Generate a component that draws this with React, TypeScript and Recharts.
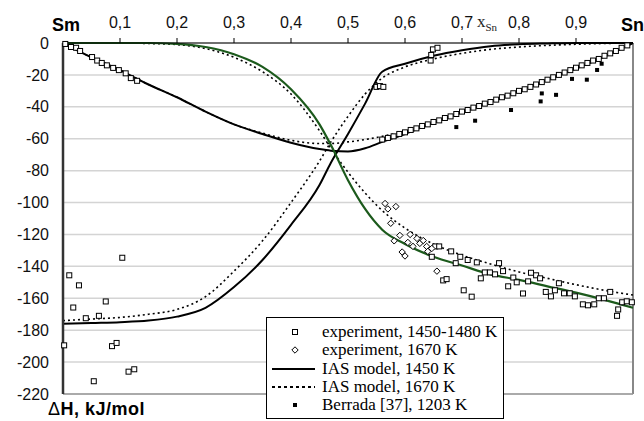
import React from "react";
import {
  CartesianGrid,
  ComposedChart,
  Line,
  ReferenceLine,
  Scatter,
  XAxis,
  YAxis,
} from "recharts";

// common composition grid for the model curves (x_Sn)
const modelX = [0, 0.05, 0.1, 0.15, 0.2, 0.25, 0.3, 0.35, 0.4, 0.45, 0.47, 0.5, 0.53, 0.56, 0.6, 0.65, 0.7, 0.75, 0.8, 0.85, 0.9, 0.95, 1];

// IAS model, 1450 K
const mix1450 = [0, -9, -17, -26, -34, -43, -51, -57, -62.5, -66.5, -67.5, -68, -66, -62, -57, -50, -43.5, -37, -30, -23, -16, -8.5, 0];
const sm1450 = [0, 0, 0, 0, -0.5, -2.5, -7, -15, -29, -51, -64, -86, -104, -117, -126, -134, -139.5, -145, -148.5, -152.5, -156.5, -161, -166];
const sn1450 = [-176, -175.5, -175, -174, -171.5, -166, -153, -136, -114, -89, -75, -57, -38, -18, -13, -8, -4.5, -2, -0.8, -0.3, 0, 0, 0];

// IAS model, 1670 K
const mix1670 = [0, -9, -17, -26, -34, -43, -51, -56.5, -61, -63, -63, -62, -60.5, -58.5, -55.5, -50, -43.5, -37, -30, -23, -16, -8.5, 0];
const sm1670 = [0, 0, 0, -0.3, -1, -3.5, -9, -18, -32, -55, -66, -81, -94, -105, -116, -126, -133, -138.5, -143.5, -147.5, -151.5, -155, -158];
const sn1670 = [-174, -173, -172, -170, -167, -159, -143, -124, -100, -74, -62, -46, -32, -22, -15, -10, -6.5, -4, -2.5, -1.5, -0.8, -0.3, 0];

// experiment, 1450-1480 K : integral enthalpy
const expMixX = [0.004, 0.014, 0.023, 0.03, 0.051, 0.06, 0.068, 0.077, 0.088, 0.098, 0.11, 0.119, 0.13,
  0.56, 0.57, 0.58, 0.59, 0.6, 0.61, 0.62, 0.63, 0.64, 0.65, 0.66, 0.67, 0.68, 0.69, 0.7, 0.71, 0.72, 0.73, 0.74,
  0.75, 0.76, 0.77, 0.78, 0.79, 0.8, 0.81, 0.82, 0.83, 0.84, 0.85, 0.86, 0.87, 0.88, 0.89, 0.9, 0.91, 0.92, 0.93,
  0.94, 0.95, 0.96, 0.97, 0.98, 0.99];
const expMixY = [-0.6, -2.5, -3, -5, -8.8, -11, -12.5, -14, -15.6, -17, -19, -22, -23.7,
  -60.5, -59.5, -58.5, -57, -56, -54.5, -53.5, -52, -51, -49.5, -48.5, -47, -46, -44.5, -43, -42, -40.5, -39.5, -38,
  -37, -35.5, -34, -33, -31.5, -30, -29, -27.5, -26, -24.5, -23, -21.5, -20, -18.5, -17, -15.5, -14, -12.5, -11,
  -10, -8, -6.5, -5, -3, -1.5];

// experiment, 1450-1480 K : partial enthalpy of Sn
const expSnX = [0.002, 0.011, 0.018, 0.028, 0.04, 0.054, 0.063, 0.075, 0.086, 0.094, 0.104, 0.115, 0.125,
  0.55, 0.556, 0.562, 0.645, 0.646, 0.649, 0.657];
const expSnY = [-189.5, -145.6, -165.8, -151.9, -172.5, -212, -171, -162, -190, -188, -134.6, -206, -204.5,
  -27.5, -27, -27.5, -11, -7.5, -4, -3];

// experiment, 1450-1480 K : partial enthalpy of Sm
const expSmX = [0.647, 0.653, 0.66, 0.667, 0.673, 0.681, 0.689, 0.697, 0.703, 0.71, 0.717, 0.726, 0.733, 0.74,
  0.749, 0.758, 0.765, 0.772, 0.781, 0.79, 0.796, 0.807, 0.816, 0.821, 0.83, 0.837, 0.847, 0.856, 0.863, 0.87,
  0.879, 0.889, 0.898, 0.912, 0.921, 0.932, 0.94, 0.949, 0.96, 0.972, 0.974, 0.981, 0.989, 0.998];
const expSmY = [-134, -127.5, -127.5, -148.8, -148, -130.6, -138, -134, -155, -136, -159, -137.5, -147.5, -143.8,
  -143.8, -145, -138, -143, -152.5, -147, -150, -157, -149.4, -144, -145.6, -147.5, -156, -158.8, -155, -150.6,
  -156.9, -156.9, -158.8, -163.8, -164.4, -163.8, -160, -160, -156, -171, -167, -162.5, -161.9, -162.5];

// experiment, 1670 K
const exp1670X = [0.565, 0.57, 0.575, 0.581, 0.584, 0.591, 0.595, 0.6, 0.605, 0.609, 0.614, 0.621, 0.626, 0.632, 0.638, 0.64, 0.647, 0.656];
const exp1670Y = [-100.6, -104, -113, -124, -102.5, -120.6, -131, -133.5, -125, -120, -127.5, -122.5, -125.6, -123.8, -127.5, -130.6, -128.8, -143];

// Berrada [37], 1203 K
const berradaX = [0.69, 0.723, 0.786, 0.838, 0.84, 0.865, 0.893, 0.919, 0.937, 0.945];
const berradaY = [-52.7, -48.7, -42, -36.6, -31.6, -32.5, -22.5, -23, -16.9, -13];

const xTicks = [0.1, 0.2, 0.3, 0.4, 0.5, 0.6, 0.7, 0.8, 0.9];
const yTicks = [0, -20, -40, -60, -80, -100, -120, -140, -160, -180, -200, -220];

const pts = (xs: number[], ys: number[]) => xs.map((x, i) => ({ x, y: ys[i] }));

const sans = "'Liberation Sans', Arial, sans-serif";
const serif = "'Liberation Serif', 'Times New Roman', serif";
const green = "#1c5a1c";

const OpenSquare = (p: any) => (
  <rect x={p.cx - 2.5} y={p.cy - 2.5} width={5} height={5} fill="#fff" stroke="#000" strokeWidth={1} />
);
const Diamond = (p: any) => (
  <path d={`M${p.cx},${p.cy - 3.2}L${p.cx + 3.2},${p.cy}L${p.cx},${p.cy + 3.2}L${p.cx - 3.2},${p.cy}Z`} fill="#fff" stroke="#000" strokeWidth={1} />
);
const FilledSquare = (p: any) => (
  <rect x={p.cx - 2} y={p.cy - 2} width={4} height={4} fill="#000" />
);

const legendRows = [
  { label: "experiment, 1450-1480 K", kind: "square" },
  { label: "experiment, 1670 K", kind: "diamond" },
  { label: "IAS model, 1450 K", kind: "solid" },
  { label: "IAS model, 1670 K", kind: "dotted" },
  { label: "Berrada [37], 1203 K", kind: "filled" },
];

function LegendSymbol({ kind }: { kind: string }) {
  return (
    <svg width={50} height={18} style={{ display: "block" }}>
      {kind === "square" && <rect x={22.5} y={6.5} width={5} height={5} fill="#fff" stroke="#000" />}
      {kind === "diamond" && <path d="M25,5.8L28.2,9L25,12.2L21.8,9Z" fill="#fff" stroke="#000" />}
      {kind === "solid" && <line x1={2} x2={45} y1={9} y2={9} stroke="#000" strokeWidth={2} />}
      {kind === "dotted" && <line x1={2} x2={45} y1={9} y2={9} stroke="#000" strokeWidth={2} strokeDasharray="3 3" />}
      {kind === "filled" && <rect x={23} y={7} width={4} height={4} fill="#000" />}
    </svg>
  );
}

export default function App() {
  const lineProps = { type: "monotone" as const, dataKey: "y", dot: false, activeDot: false, isAnimationActive: false };
  return (
    <div style={{ position: "absolute", left: 0, top: 0, width: 644, height: 421, background: "#fff", overflow: "hidden" }}>
      <ComposedChart width={644} height={421} margin={{ top: 13, right: 11, bottom: 27, left: 13 }}>
        <CartesianGrid horizontal vertical={false} stroke="#d4d4d4" strokeWidth={1.5} />
        <XAxis
          dataKey="x"
          type="number"
          orientation="top"
          domain={[0, 1]}
          ticks={xTicks}
          height={30}
          tickSize={5}
          tickMargin={10}
          tickFormatter={(v: number) => v.toFixed(1).replace(".", ",")}
          axisLine={{ stroke: "#000", strokeWidth: 1 }}
          tickLine={{ stroke: "#000" }}
          tick={{ fill: "#111", fontSize: 16, fontFamily: sans }}
        />
        <YAxis
          type="number"
          domain={[-220, 0]}
          ticks={yTicks}
          width={50}
          tickSize={0}
          tickMargin={14}
          tickLine={false}
          axisLine={{ stroke: "#333", strokeWidth: 2.5 }}
          tick={{ fill: "#111", fontSize: 16, fontFamily: sans }}
        />
        <ReferenceLine x={1} stroke="#888" strokeWidth={2} />
        <ReferenceLine y={-220} stroke="#999" strokeWidth={1.5} />

        <Line {...lineProps} data={pts(modelX, mix1670)} stroke="#000" strokeWidth={1.6} strokeDasharray="2 3" />
        <Line {...lineProps} data={pts(modelX, sm1670)} stroke="#000" strokeWidth={1.6} strokeDasharray="2 3" />
        <Line {...lineProps} data={pts(modelX, sn1670)} stroke="#000" strokeWidth={1.6} strokeDasharray="2 3" />
        <Line {...lineProps} data={pts(modelX, mix1450)} stroke="#000" strokeWidth={2} />
        <Line {...lineProps} data={pts(modelX, sn1450)} stroke="#000" strokeWidth={2} />
        <Line {...lineProps} data={pts(modelX, sm1450)} stroke={green} strokeWidth={2.2} />

        <Scatter data={pts(expMixX, expMixY)} dataKey="y" shape={OpenSquare} isAnimationActive={false} />
        <Scatter data={pts(expSnX, expSnY)} dataKey="y" shape={OpenSquare} isAnimationActive={false} />
        <Scatter data={pts(expSmX, expSmY)} dataKey="y" shape={OpenSquare} isAnimationActive={false} />
        <Scatter data={pts(exp1670X, exp1670Y)} dataKey="y" shape={Diamond} isAnimationActive={false} />
        <Scatter data={pts(berradaX, berradaY)} dataKey="y" shape={FilledSquare} isAnimationActive={false} />
      </ComposedChart>

      <div style={{ position: "absolute", left: 52, top: 16, fontFamily: sans, fontWeight: "bold", fontSize: 18, lineHeight: "18px" }}>Sm</div>
      <div style={{ position: "absolute", left: 621, top: 16, fontFamily: sans, fontWeight: "bold", fontSize: 18, lineHeight: "18px" }}>Sn</div>
      <div style={{ position: "absolute", left: 477, top: 13, fontFamily: serif, fontSize: 17, lineHeight: "17px", color: "#222" }}>
        x<sub style={{ fontSize: 11 }}>Sn</sub>
      </div>
      <div style={{ position: "absolute", left: 48, top: 400, fontFamily: sans, fontWeight: "bold", fontSize: 18, lineHeight: "18px", whiteSpace: "nowrap", letterSpacing: 0.5 }}>
        <span style={{ fontWeight: "normal" }}>Δ</span>H, kJ/mol
      </div>

      <div
        style={{
          position: "absolute",
          left: 266,
          top: 317,
          width: 238,
          height: 102,
          boxSizing: "border-box",
          border: "1px solid #000",
          background: "#fff",
          paddingTop: 5,
          fontFamily: serif,
          fontSize: 17,
        }}
      >
        {legendRows.map((r) => (
          <div key={r.label} style={{ display: "flex", alignItems: "center", height: 18.3, whiteSpace: "nowrap" }}>
            <div style={{ marginLeft: 3, width: 50 }}>
              <LegendSymbol kind={r.kind} />
            </div>
            <span style={{ marginLeft: 2, lineHeight: "18px" }}>{r.label}</span>
          </div>
        ))}
      </div>
    </div>
  );
}
